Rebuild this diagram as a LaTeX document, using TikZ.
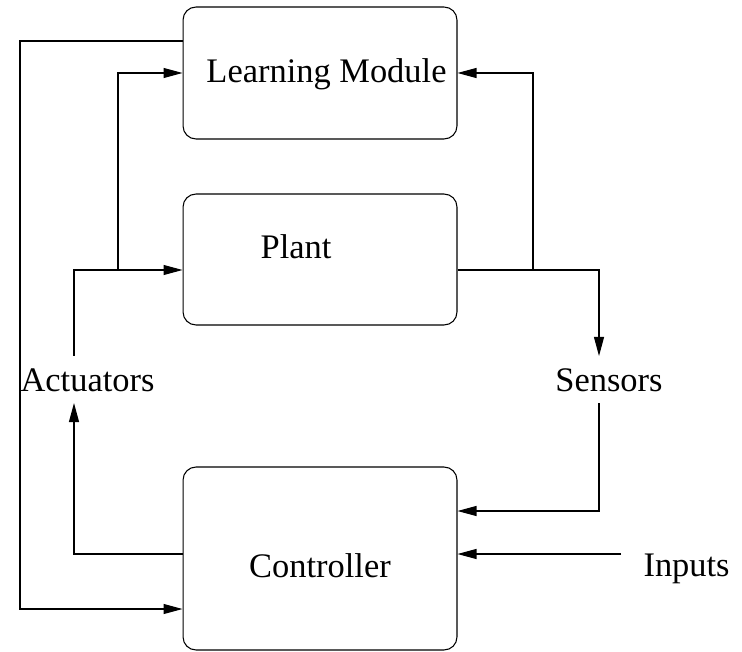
\documentclass[tikz,border=0pt]{standalone}
\usepackage{fontspec}
\setmainfont{Liberation Serif}
\usetikzlibrary{arrows.meta,positioning}
\tikzset{every picture/.style={line width=0.6pt}}
\tikzset{
    block/.style={draw, rounded corners=0.26cm, minimum width=5.48cm, inner sep=0pt},
    txt/.style={font=\fontsize{19.6}{23}\selectfont, inner sep=0pt},
    sig/.style={font=\fontsize{19.6}{23}\selectfont, text height=0.46cm, text depth=0pt, inner xsep=0pt, inner ysep=0.23cm},
    arr/.style={-{Triangle[length=0.38cm,width=0.2cm]}}
}

\begin{document}
\begin{tikzpicture}[x=0.02cm, y=-0.02cm]
    \useasboundingbox (0,0) rectangle (742,651);
    \node[block, minimum height=2.64cm] (lm) at (320,73) {};
    \node[block, minimum height=2.62cm] (plant) at (320,259.5) {};
    \node[block, minimum height=3.66cm] (ctrl) at (320,558.5) {};
    \node[txt, anchor=base] (lmtext) at (326.5,83) {Learning Module};
    \node[txt, anchor=base] (planttext) at (296,259) {Plant};
    \node[txt, anchor=base] (ctrltext) at (320,577) {Controller};
    \node[sig, anchor=base] (act) at (87.5,391) {Actuators};
    \node[sig, anchor=base] (sens) at (609,391) {Sensors};
    \node[sig, anchor=base west, inner xsep=0.44cm] (inp) at (621,576) {Inputs};
    \coordinate (actx) at (74,0);
    \coordinate (sensx) at (599,0);
    \coordinate (split) at (118,270);
    \coordinate (tap) at (533,270);
    \coordinate (loop) at (20,41);
    \draw[arr] (actx |- act.north) |- (plant.west |- split);
    \draw[arr] (split) |- (lm.west);
    \draw[arr] (plant.east |- split) -| (sensx |- sens.north);
    \draw[arr] (tap) |- (lm.east);
    \draw[arr] (sensx |- sens.south) |- (ctrl.east |- 0,511);
    \draw[arr] (inp.west |- 0,554) -- (ctrl.east |- 0,554);
    \draw[arr] (ctrl.west |- 0,554) -| (actx |- act.south);
    \draw[arr] (lm.west |- loop) -- (loop) |- (ctrl.west |- 0,609);
\end{tikzpicture}
\end{document}
